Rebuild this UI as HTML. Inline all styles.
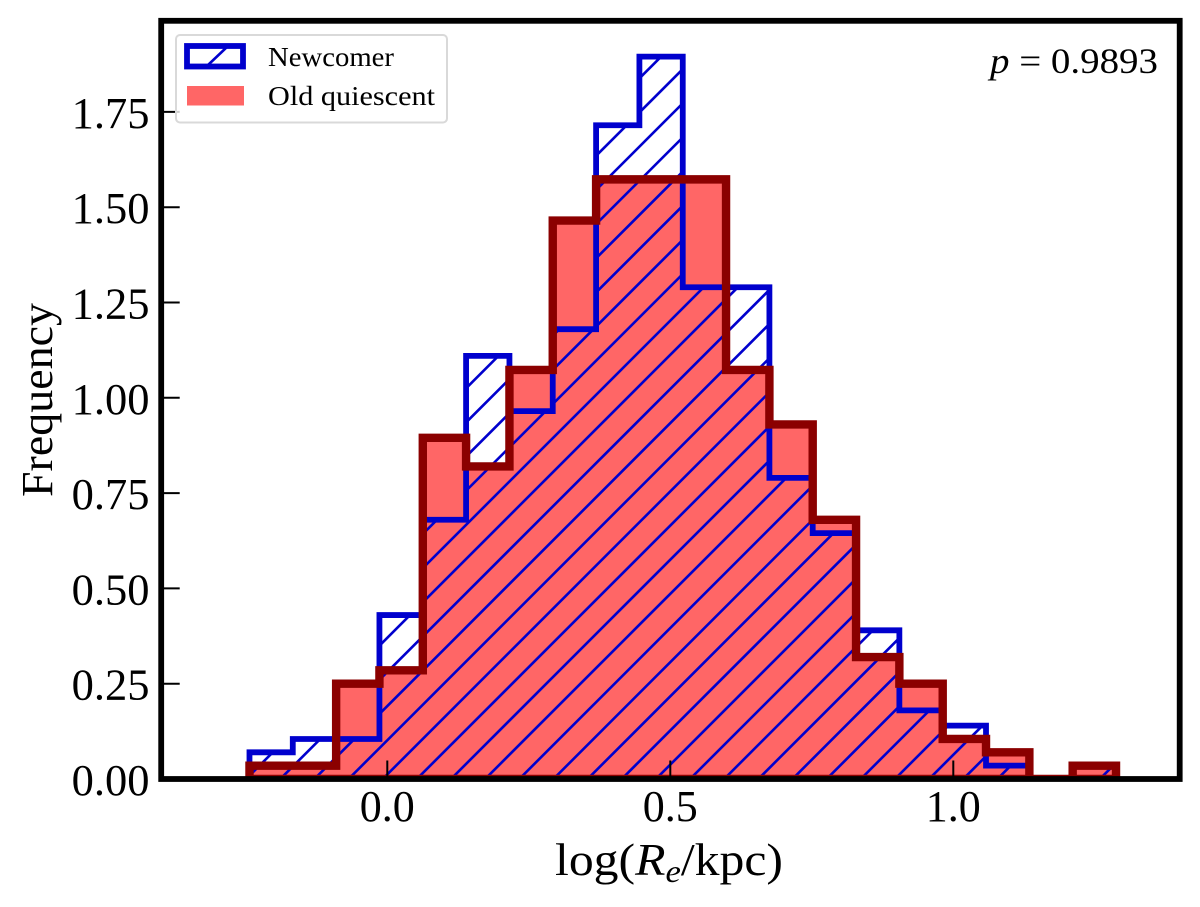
<!DOCTYPE html>
<html>
<head>
<meta charset="utf-8">
<title>Size distribution histogram</title>
<style>
html,body{margin:0;padding:0;background:#fff;}
svg{display:block;}
text{font-family:"Liberation Serif",serif;fill:#000;}
</style>
</head>
<body>
<svg id="chart" xmlns="http://www.w3.org/2000/svg" width="1200" height="907" viewBox="0 0 1200 907"></svg>
<script>
const binEdges = [-0.2435,-0.167,-0.0904,-0.0139,0.0627,0.1392,0.2158,0.2923,0.3689,0.4454,0.522,0.5985,0.6751,0.7516,0.8282,0.9047,0.9813,1.0578,1.1344,1.2109,1.2875];
const newcomerValues = [0.07,0.105,0.105,0.43,0.68,1.11,0.965,1.18,1.715,1.895,1.29,1.29,0.79,0.645,0.39,0.18,0.14,0.035,0,0.035];
const oldQuiescentValues = [0.035,0.035,0.25,0.285,0.895,0.82,1.073,1.465,1.573,1.573,1.573,1.073,0.93,0.68,0.32,0.25,0.105,0.07,0,0.035];
const xTickValues = [0,0.5,1];
const xTickLabels = ["0.0","0.5","1.0"];
const yTickValues = [0,0.25,0.5,0.75,1,1.25,1.5,1.75];
const yTickLabels = ["0.00","0.25","0.50","0.75","1.00","1.25","1.50","1.75"];

const NS = "http://www.w3.org/2000/svg";
const svg = document.getElementById("chart");
const plot = {left:161.2, right:1179.7, top:20.8, bottom:779};
const xScale = v => 387.3 + 566 * v;
const yScale = v => 779 - 381.2 * v;

function make(tag, attrs, parent, txt){
  const el = document.createElementNS(NS, tag);
  for (const k in attrs) el.setAttribute(k, attrs[k]);
  if (txt !== undefined) el.textContent = txt;
  (parent || svg).appendChild(el);
  return el;
}
function stepPath(values){
  let d = "M" + xScale(binEdges[0]) + " " + yScale(0);
  values.forEach((v,i) => {
    d += "L" + xScale(binEdges[i]) + " " + yScale(v) + "L" + xScale(binEdges[i+1]) + " " + yScale(v);
  });
  return d + "L" + xScale(binEdges[binEdges.length-1]) + " " + yScale(0) + "Z";
}
function hatchLines(parent, x0, x1, y0, y1){
  const base = 1161.7, step = 34.15;
  for (let k = Math.floor((x0+y0-base)/step); k <= Math.ceil((x1+y1-base)/step); k++){
    const c = base + k*step;
    make("line", {x1:c-y0, y1:y0, x2:c-y1, y2:y1, stroke:"#0000cd", "stroke-width":2.6}, parent);
  }
}

const defs = make("defs", {});
const axClip = make("clipPath", {id:"axes-clip"}, defs);
make("rect", {x:plot.left, y:plot.top, width:plot.right-plot.left, height:plot.bottom-plot.top}, axClip);
const blueClip = make("clipPath", {id:"blue-clip"}, defs);
make("path", {d:stepPath(newcomerValues)}, blueClip);
const legClip = make("clipPath", {id:"legend-hatch-clip"}, defs);
make("rect", {x:187, y:46, width:56, height:20}, legClip);

const area = make("g", {"clip-path":"url(#axes-clip)"});



const redFill = make("path", {d:stepPath(oldQuiescentValues), fill:"#ff6666"}, area);



const hatch = make("g", {"clip-path":"url(#blue-clip)"}, area);


hatchLines(hatch, 240, 1125, 40, 785);

const blueLine = make("path", {d:stepPath(newcomerValues), fill:"none", stroke:"#0000cd", "stroke-width":5.8, "stroke-linejoin":"miter"}, area);



const redLine = make("path", {d:stepPath(oldQuiescentValues), fill:"none", stroke:"#8b0000", "stroke-width":8.4, "stroke-linejoin":"miter"}, area);



xTickValues.forEach((v,i) => {
  const t = make("line", {x1:xScale(v), x2:xScale(v), y1:plot.bottom, y2:plot.bottom-18.5, stroke:"#000", "stroke-width":2});
  
  
  const l = make("text", {x:xScale(v), y:821, "text-anchor":"middle", "font-size":44}, svg, xTickLabels[i]);
  
  
});
yTickValues.forEach((v,i) => {
  const t = make("line", {x1:plot.left, x2:plot.left+18.5, y1:yScale(v), y2:yScale(v), stroke:"#000", "stroke-width":2});
  
  
  const l = make("text", {x:149.5, y:yScale(v)+16, "text-anchor":"end", "font-size":44.5}, svg, yTickLabels[i]);
  
  
});

const frame = make("rect", {x:plot.left, y:plot.top, width:plot.right-plot.left, height:plot.bottom-plot.top, fill:"none", stroke:"#000", "stroke-width":5.8});



const yTitle = make("text", {transform:"translate(52,497) rotate(-90)", "font-size":44, textLength:194, lengthAdjust:"spacingAndGlyphs"}, svg, "Frequency");



const xTitle = make("text", {x:555, y:875, "font-size":46, textLength:228, lengthAdjust:"spacingAndGlyphs"});


make("tspan", {}, xTitle, "log(");
make("tspan", {"font-style":"italic"}, xTitle, "R");
make("tspan", {"font-style":"italic", "font-size":32, dy:7}, xTitle, "e");
make("tspan", {dy:-7}, xTitle, "/kpc)");

const pText = make("text", {x:990, y:73, "font-size":36, textLength:168, lengthAdjust:"spacingAndGlyphs"});


make("tspan", {"font-style":"italic"}, pText, "p");
make("tspan", {}, pText, " = 0.9893");

const legend = make("g", {});


const legBox = make("rect", {x:176, y:35, width:271, height:87.5, rx:4, ry:4, fill:"#fff", "fill-opacity":0.8, stroke:"#d9d9d9", "stroke-width":2}, legend);



const legHatch = make("g", {"clip-path":"url(#legend-hatch-clip)"}, legend);


make("line", {x1:207, y1:66, x2:228, y2:46, stroke:"#0000cd", "stroke-width":2.6}, legHatch);

const legBlue = make("rect", {x:187, y:46, width:56, height:20.5, fill:"none", stroke:"#0000cd", "stroke-width":5.8}, legend);


const legBlueText = make("text", {x:268, y:66, "font-size":27, textLength:126, lengthAdjust:"spacingAndGlyphs"}, legend, "Newcomer");



const legRed = make("rect", {x:187, y:86, width:57, height:19.5, fill:"#ff6666"}, legend);


const legRedText = make("text", {x:268, y:105, "font-size":27, textLength:167, lengthAdjust:"spacingAndGlyphs"}, legend, "Old quiescent");


</script>
</body>
</html>
